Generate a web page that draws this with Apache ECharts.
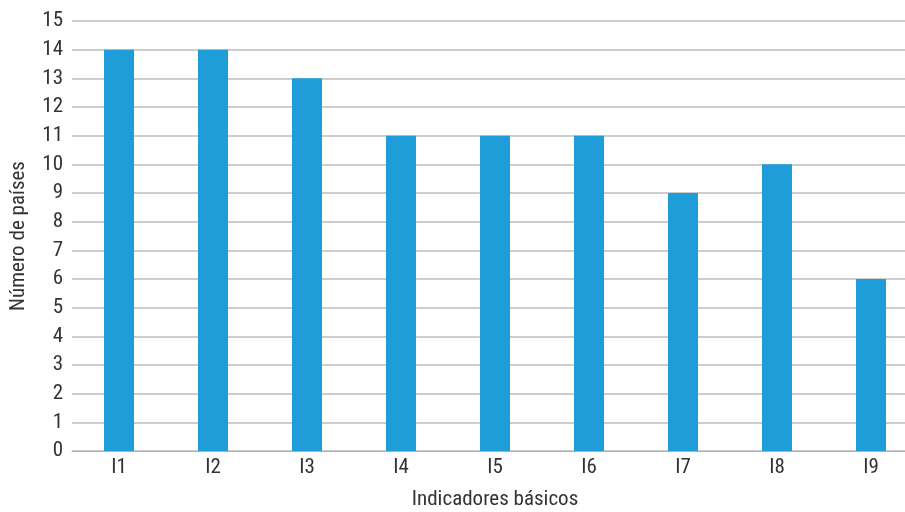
<!DOCTYPE html>
<html><head><meta charset="utf-8">
<script src="https://cdn.jsdelivr.net/npm/echarts@6/dist/echarts.min.js"></script>
<style>html,body{margin:0;padding:0;background:#fff}#c{width:905px;height:512px}</style>
</head><body><div id="c"></div>
<script>
const categories = ['I1','I2','I3','I4','I5','I6','I7','I8','I9'];
const values = [14,14,13,11,11,11,9,10,6];
const font = '"Liberation Sans Narrow","Roboto Condensed","DejaVu Sans Condensed",sans-serif';
const chart = echarts.init(document.getElementById('c'));
chart.setOption({
  animation:false,
  grid:{left:72, top:21, width:846, height:430, outerBoundsMode:'none', containLabel:false},
  xAxis:{type:'category', data:categories,
    axisLine:{show:true,lineStyle:{color:'#b0b0b0',width:1}}, axisTick:{show:false},
    axisLabel:{color:'#333',fontFamily:font,fontSize:21,margin:6},
    name:'Indicadores básicos', nameLocation:'middle', nameGap:38,
    nameTextStyle:{color:'#333',fontFamily:font,fontSize:21}},
  yAxis:{type:'value', min:0, max:15, interval:1,
    axisLine:{show:false}, axisTick:{show:false},
    splitLine:{lineStyle:{color:'#bdbdbd',width:1.5}},
    axisLabel:{color:'#333',fontFamily:font,fontSize:21,margin:9},
    name:'Número de países', nameLocation:'middle', nameGap:43,
    nameTextStyle:{color:'#333',fontFamily:font,fontSize:21}},
  series:[{type:'bar', data:values, barWidth:30, itemStyle:{color:'#1E9DD8'}}]
});
</script></body></html>
